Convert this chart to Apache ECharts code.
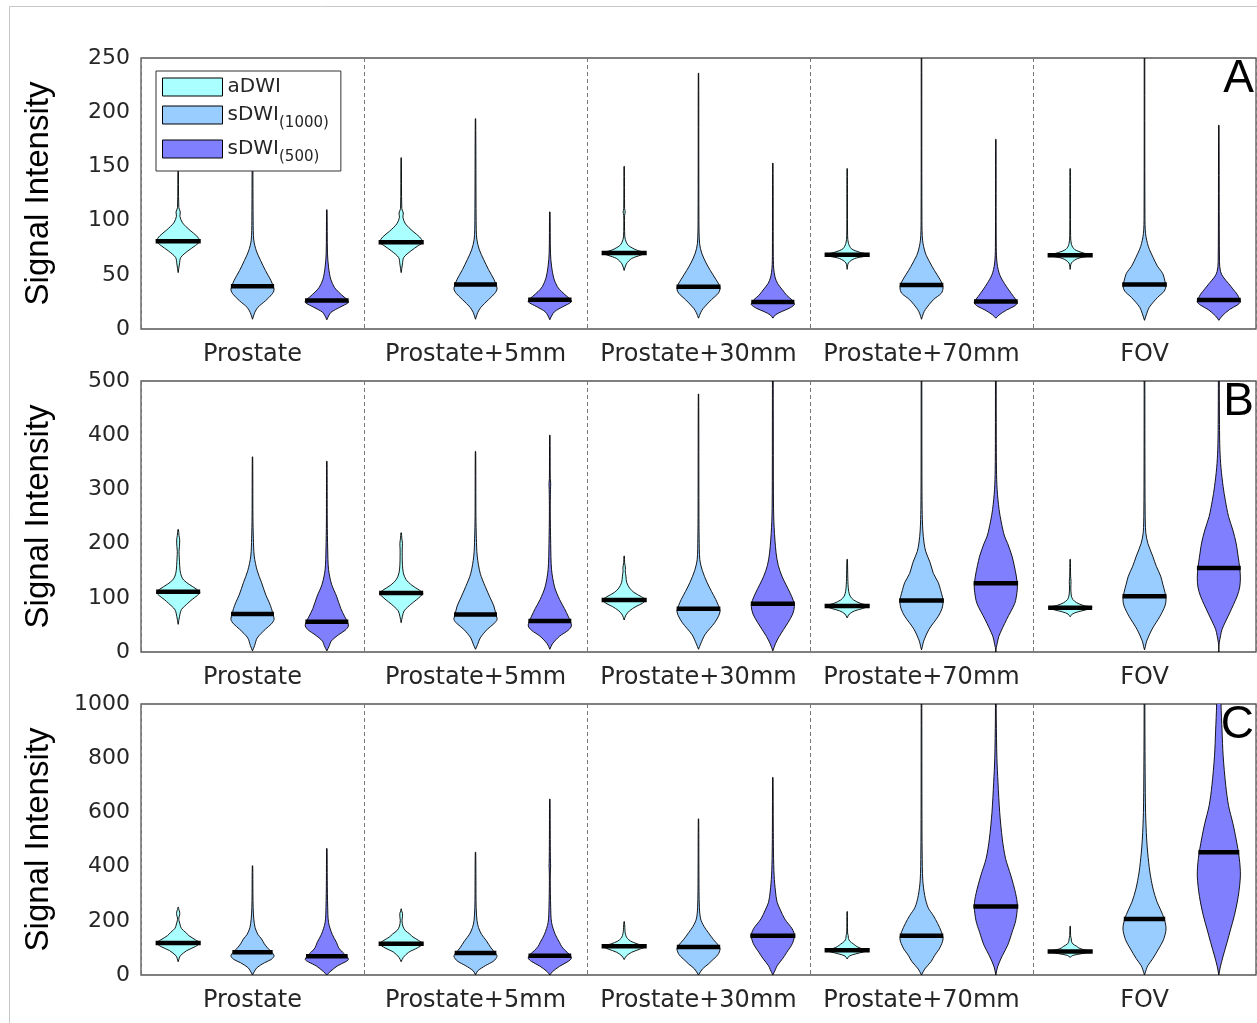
<!DOCTYPE html>
<html>
<head>
<meta charset="utf-8">
<title>Signal Intensity violins</title>
<script src="https://cdn.jsdelivr.net/npm/echarts@6/dist/echarts.min.js"></script>
<style>
  html, body { margin: 0; padding: 0; background: #ffffff; }
  #chart { width: 1257px; height: 1023px; }
</style>
</head>
<body>
<div id="chart"></div>
<script>
// ---- categories ----
const groups = ['Prostate', 'Prostate+5mm', 'Prostate+30mm', 'Prostate+70mm', 'FOV'];
const methods = ['aDWI', 'sDWI(1000)', 'sDWI(500)'];
const methodColors = ['#aaffff', '#99ccff', '#8080ff'];
const panelLetters = ['A', 'B', 'C'];
const yMaxes = [250, 500, 1000];
const yIntervals = [50, 100, 200];

// ---- medians (one per region) ----
const medianA_aDWI = [81, 80, 70, 68.5, 68];
const medianA_sDWI1000 = [39.5, 41, 39, 40.7, 41];
const medianA_sDWI500 = [26.3, 27, 24.8, 25.4, 26.8];

const medianB_aDWI = [111, 109, 96, 85, 81.6];
const medianB_sDWI1000 = [70, 69, 80, 95, 103];
const medianB_sDWI500 = [56, 57, 89, 127, 155];

const medianC_aDWI = [118, 115, 106, 91, 87];
const medianC_sDWI1000 = [84, 81, 103, 145, 207];
const medianC_sDWI500 = [69, 71, 145, 253, 453];

// ---- density profiles: [signal value, relative half width], bottom to top ----
const profileA_aDWI = [
  [[52,0],[60,0.06],[66,0.12],[72,0.45],[77,0.8],[81,1],[86,0.85],[91,0.55],[98,0.2],[104,0.08],[108,0.1],[112,0.03],[155,0.01]],
  [[52,0],[60,0.06],[66,0.12],[72,0.45],[77,0.8],[80,1],[85,0.85],[90,0.55],[97,0.2],[103,0.08],[107,0.1],[111,0.03],[158,0.01]],
  [[54,0],[60,0.1],[65,0.35],[68,0.75],[70,1],[73,0.55],[77,0.2],[80,0.1],[85,0.03],[105,0.02],[108,0.05],[111,0.02],[150,0.01]],
  [[55,0],[61,0.06],[65,0.35],[67,0.8],[68.5,1],[71,0.55],[74,0.2],[79,0.06],[86,0.02],[148,0.01]],
  [[55,0],[61,0.06],[65,0.35],[67,0.8],[68,1],[70.5,0.55],[73.5,0.2],[78,0.06],[86,0.02],[148,0.01]]
];
const profileA_sDWI1000 = [
  [[9,0],[15,0.1],[20,0.25],[26,0.6],[32,0.9],[36,1],[40,0.95],[45,0.85],[54,0.6],[63,0.38],[72,0.18],[82,0.06],[100,0.03],[180,0.01]],
  [[9,0],[15,0.1],[20,0.25],[27,0.6],[33,0.9],[37,1],[41,0.95],[46,0.85],[55,0.6],[64,0.38],[73,0.18],[83,0.06],[100,0.03],[194,0.01]],
  [[10,0],[15,0.1],[19,0.22],[27,0.6],[33,0.92],[37,1],[41,0.95],[46,0.8],[54,0.55],[61,0.35],[70,0.15],[79,0.05],[100,0.02],[236,0.01]],
  [[9,0],[14,0.08],[18,0.18],[27,0.55],[33,0.92],[38,1],[42,0.95],[46,0.85],[54,0.6],[61,0.4],[70,0.18],[82,0.05],[100,0.02],[280,0.01]],
  [[8,0],[14,0.1],[20,0.22],[29,0.6],[35,0.92],[40,1],[44,0.95],[51,0.85],[58,0.6],[66,0.4],[76,0.18],[88,0.05],[105,0.02],[280,0.01]]
];
const profileA_sDWI500 = [
  [[8.5,0],[12,0.08],[15.5,0.2],[20,0.6],[24.5,1],[27,0.95],[29.5,0.8],[34,0.55],[38.5,0.35],[46,0.18],[57,0.08],[70,0.03],[110,0.01]],
  [[8.5,0],[12,0.08],[16,0.22],[20.5,0.6],[25,1],[27.5,0.95],[30,0.8],[34.5,0.55],[39,0.35],[47,0.18],[58,0.08],[70,0.03],[108,0.01]],
  [[10,0],[13,0.12],[16,0.4],[19,0.75],[22.5,1],[25,0.95],[27,0.88],[31,0.65],[36,0.45],[42,0.22],[48,0.1],[56,0.04],[70,0.02],[153,0.01]],
  [[10,0],[13,0.15],[17.5,0.5],[21,0.85],[24,1],[27,0.93],[30,0.82],[36,0.6],[42,0.4],[50,0.18],[60,0.06],[75,0.02],[175,0.01]],
  [[8,0],[12,0.15],[18,0.5],[22,0.85],[25,1],[28,0.95],[32,0.85],[37,0.65],[42,0.45],[48,0.2],[53,0.08],[62,0.03],[188,0.01]]
];

const profileB_aDWI = [
  [[51,0],[65,0.06],[78,0.15],[90,0.45],[97,0.65],[104,0.88],[110,1],[116,0.85],[125,0.5],[133,0.25],[140,0.15],[150,0.09],[160,0.07],[175,0.05],[185,0.04],[195,0.06],[207,0.07],[215,0.04],[226,0.01]],
  [[54,0],[66,0.06],[76,0.14],[88,0.45],[96,0.7],[103,0.9],[108,1],[114,0.85],[123,0.5],[134,0.22],[146,0.1],[160,0.06],[176,0.05],[190,0.05],[200,0.06],[210,0.03],[220,0.01]],
  [[59,0],[68,0.08],[76,0.25],[84,0.55],[90,0.85],[96,1],[102,0.8],[110,0.45],[118,0.25],[128,0.12],[140,0.08],[150,0.05],[155,0.06],[165,0.02],[177,0.01]],
  [[63,0],[70,0.1],[76,0.35],[80,0.7],[85,1],[90,0.6],[96,0.3],[103,0.14],[112,0.07],[125,0.04],[135,0.03],[171,0.01]],
  [[65,0],[70,0.1],[74,0.35],[78,0.75],[82,1],[86,0.6],[91,0.3],[97,0.12],[105,0.05],[120,0.03],[130,0.04],[140,0.02],[171,0.01]]
];
const profileB_sDWI1000 = [
  [[2,0],[12,0.1],[26,0.22],[42,0.6],[52,0.88],[60,1],[70,0.95],[80,0.88],[91,0.78],[105,0.62],[128,0.42],[150,0.22],[177,0.08],[210,0.04],[250,0.02],[360,0.01]],
  [[5,0],[14,0.1],[26,0.22],[42,0.55],[52,0.85],[60,1],[69,0.95],[85,0.85],[100,0.68],[121,0.45],[145,0.22],[177,0.08],[210,0.04],[250,0.02],[370,0.01]],
  [[5,0],[15,0.1],[32,0.3],[54,0.75],[68,0.95],[76,1],[86,0.92],[97,0.8],[112,0.6],[128,0.4],[150,0.18],[171,0.06],[210,0.03],[260,0.02],[476,0.01]],
  [[4,0],[10,0.04],[20,0.1],[42,0.35],[66,0.78],[80,0.95],[91,1],[100,0.98],[115,0.88],[128,0.78],[145,0.55],[165,0.4],[185,0.2],[201,0.12],[225,0.06],[263,0.03],[330,0.02],[600,0.01]],
  [[4,0],[10,0.04],[20,0.1],[42,0.35],[66,0.72],[85,0.95],[97,1],[110,0.95],[125,0.85],[140,0.75],[158,0.55],[177,0.38],[200,0.16],[220,0.06],[260,0.03],[350,0.02],[600,0.01]]
];
const profileB_sDWI500 = [
  [[2,0],[12,0.12],[20,0.2],[32,0.55],[40,0.85],[48,1],[56,0.95],[66,0.82],[80,0.65],[103,0.45],[125,0.22],[152,0.08],[190,0.04],[240,0.02],[352,0.01]],
  [[5,0],[15,0.12],[29,0.45],[40,0.85],[48,1],[57,0.95],[66,0.85],[80,0.68],[97,0.45],[120,0.22],[152,0.08],[200,0.04],[260,0.02],[300,0.03],[311,0.04],[320,0.02],[400,0.01]],
  [[2,0],[15,0.12],[29,0.3],[54,0.7],[70,0.92],[84,1],[95,0.95],[109,0.8],[125,0.6],[140,0.42],[160,0.25],[183,0.15],[230,0.06],[275,0.03],[450,0.02],[600,0.01]],
  [[0,0],[8,0.02],[15,0.06],[29,0.14],[60,0.5],[90,0.88],[110,0.98],[122,1],[140,0.95],[160,0.85],[177,0.75],[200,0.55],[214,0.4],[240,0.25],[263,0.15],[300,0.06],[336,0.03],[400,0.02],[600,0.01]],
  [[0,0],[10,0.01],[17,0.02],[30,0.08],[42,0.15],[72,0.5],[103,0.85],[120,0.97],[137,1],[155,0.97],[175,0.9],[201,0.8],[225,0.65],[250,0.45],[280,0.3],[305,0.2],[340,0.1],[373,0.05],[420,0.03],[600,0.01]]
];

const profileC_aDWI = [
  [[49,0],[62,0.05],[71,0.1],[90,0.4],[105,0.8],[118,1],[130,0.8],[145,0.5],[157,0.35],[172,0.15],[188,0.08],[200,0.04],[210,0.03],[222,0.07],[232,0.07],[242,0.03],[250,0.01]],
  [[49,0],[65,0.1],[84,0.35],[100,0.75],[115,1],[128,0.8],[140,0.55],[151,0.4],[165,0.18],[180,0.08],[200,0.04],[215,0.06],[228,0.06],[237,0.02],[244,0.01]],
  [[57,0],[70,0.1],[84,0.35],[96,0.75],[106,1],[115,0.6],[125,0.3],[135,0.15],[145,0.08],[160,0.04],[175,0.03],[197,0.01]],
  [[59,0],[70,0.1],[78,0.4],[85,0.75],[91,1],[98,0.65],[105,0.45],[114,0.3],[125,0.12],[135,0.06],[145,0.05],[155,0.02],[234,0.01]],
  [[65,0],[72,0.12],[76,0.35],[82,0.75],[87,1],[94,0.6],[100,0.4],[106,0.3],[115,0.12],[125,0.06],[133,0.05],[145,0.02],[180,0.01]]
];
const profileC_sDWI1000 = [
  [[0,0],[15,0.1],[28,0.22],[45,0.55],[58,0.88],[71,1],[85,0.88],[100,0.7],[115,0.55],[133,0.42],[150,0.25],[175,0.12],[207,0.06],[250,0.03],[300,0.02],[403,0.01]],
  [[0,0],[15,0.1],[34,0.45],[52,0.85],[69,1],[81,0.92],[100,0.72],[127,0.5],[150,0.28],[175,0.14],[200,0.07],[250,0.03],[350,0.02],[453,0.01]],
  [[0,0],[22,0.18],[40,0.45],[53,0.62],[75,0.9],[96,1],[110,0.92],[130,0.7],[157,0.45],[180,0.25],[207,0.1],[250,0.04],[366,0.02],[576,0.01]],
  [[0,0],[22,0.15],[50,0.45],[71,0.6],[100,0.85],[133,1],[160,0.92],[190,0.75],[219,0.55],[250,0.3],[293,0.15],[350,0.06],[450,0.03],[613,0.02],[1100,0.01]],
  [[0,0],[20,0.08],[34,0.15],[60,0.38],[96,0.65],[130,0.88],[170,1],[206,0.92],[240,0.75],[270,0.58],[317,0.4],[380,0.25],[450,0.15],[502,0.1],[600,0.05],[748,0.03],[900,0.02],[1100,0.01]]
];
const profileC_sDWI500 = [
  [[0,0],[12,0.15],[34,0.5],[48,0.85],[57,1],[69,0.92],[85,0.72],[100,0.55],[120,0.45],[150,0.25],[194,0.08],[250,0.04],[350,0.02],[467,0.01]],
  [[0,0],[12,0.12],[32,0.45],[50,0.85],[62,1],[75,0.92],[90,0.72],[105,0.55],[120,0.45],[150,0.25],[194,0.08],[250,0.04],[350,0.02],[395,0.03],[403,0.04],[411,0.03],[500,0.02],[649,0.01]],
  [[0,0],[20,0.12],[34,0.2],[60,0.45],[84,0.65],[115,0.9],[145,1],[170,0.9],[207,0.55],[240,0.35],[268,0.2],[310,0.12],[366,0.06],[450,0.03],[550,0.02],[729,0.01]],
  [[0,0],[30,0.08],[71,0.3],[110,0.55],[157,0.75],[200,0.92],[256,1],[300,0.92],[366,0.7],[430,0.45],[502,0.3],[600,0.18],[711,0.1],[800,0.05],[945,0.02],[1100,0.01]],
  [[0,0],[30,0.07],[70,0.2],[120,0.38],[170,0.55],[219,0.72],[290,0.9],[366,1],[430,0.95],[502,0.8],[560,0.65],[625,0.45],[700,0.32],[809,0.2],[900,0.15],[1000,0.1],[1100,0.07],[1250,0.04]]
];

// panel -> method -> arrays
const panelMedians = [
  [medianA_aDWI, medianA_sDWI1000, medianA_sDWI500],
  [medianB_aDWI, medianB_sDWI1000, medianB_sDWI500],
  [medianC_aDWI, medianC_sDWI1000, medianC_sDWI500]
];
const panelProfiles = [
  [profileA_aDWI, profileA_sDWI1000, profileA_sDWI500],
  [profileB_aDWI, profileB_sDWI1000, profileB_sDWI500],
  [profileC_aDWI, profileC_sDWI1000, profileC_sDWI500]
];

// ---- layout ----
const GRID_LEFT = 141, GRID_WIDTH = 1115, GRID_HEIGHT = 271;
const gridTops = [58, 381, 704];
const HALF_WIDTH = 0.29;           // max half width of a violin, in x-axis units
const TICK_FONT = '"DejaVu Sans", sans-serif';
const NAME_FONT = '"Liberation Sans", Arial, sans-serif';

// half width of a profile at value v (linear between profile points)
function widthAt(profile, v) {
  for (let i = 1; i < profile.length; i++) {
    const a = profile[i - 1], b = profile[i];
    if (v >= a[0] && v <= b[0]) {
      const t = (v - a[0]) / (b[0] - a[0] || 1);
      return a[1] + t * (b[1] - a[1]);
    }
  }
  return 0;
}

function makeRenderer(profiles) {
  return function (params, api) {
    const x = api.value(0);
    const med = api.value(1);
    const prof = profiles[params.dataIndex];
    const left = prof.map(p => api.coord([x - p[1] * HALF_WIDTH, p[0]]));
    const right = prof.slice().reverse().map(p => api.coord([x + p[1] * HALF_WIDTH, p[0]]));
    const pts = left.concat(right);
    const wMed = widthAt(prof, med) * HALF_WIDTH;
    const m1 = api.coord([x - wMed, med]);
    const m2 = api.coord([x + wMed, med]);
    return {
      type: 'group',
      children: [
        {
          type: 'polygon',
          shape: { points: pts, smooth: 0.3 },
          style: { fill: api.visual('color'), stroke: '#000', lineWidth: 0.9 }
        },
        {
          type: 'line',
          shape: { x1: m1[0] - 1, y1: m1[1], x2: m2[0] + 1, y2: m2[1] },
          style: { stroke: '#000', lineWidth: 4.5 }
        }
      ]
    };
  };
}

const grids = [], xAxes = [], yAxes = [], series = [], graphics = [];

for (let p = 0; p < 3; p++) {
  grids.push({
    left: GRID_LEFT, top: gridTops[p], width: GRID_WIDTH, height: GRID_HEIGHT,
    show: true, borderColor: '#555', borderWidth: 1.3, backgroundColor: '#fff'
  });
  // numeric axis carrying the 15 violins
  xAxes.push({
    type: 'value', gridIndex: p, min: 0.5, max: 15.5, show: false
  });
  // region axis with labels and dashed separators
  xAxes.push({
    type: 'category', gridIndex: p, data: groups, boundaryGap: true, position: 'bottom',
    axisLine: { show: false }, axisTick: { show: false },
    axisLabel: { interval: 0, fontSize: 24, color: '#262626', fontFamily: TICK_FONT, margin: 14 },
    splitLine: { show: true, interval: 0, lineStyle: { color: '#777', type: [4, 3], width: 1 } }
  });
  yAxes.push({
    type: 'value', gridIndex: p, min: 0, max: yMaxes[p], interval: yIntervals[p],
    axisLine: { show: false }, axisTick: { show: false }, splitLine: { show: false },
    axisLabel: { fontSize: 22, color: '#262626', fontFamily: TICK_FONT, margin: 11,
                 formatter: v => String(v) },
    name: 'Signal Intensity', nameLocation: 'middle', nameGap: 86,
    nameTextStyle: { fontSize: 33, color: '#000', fontFamily: NAME_FONT }
  });
  for (let m = 0; m < 3; m++) {
    const meds = panelMedians[p][m];
    series.push({
      type: 'custom',
      name: methods[m],
      xAxisIndex: 2 * p,
      yAxisIndex: p,
      clip: true,
      itemStyle: { color: methodColors[m] },
      renderItem: makeRenderer(panelProfiles[p][m]),
      encode: { x: 0, y: 1 },
      data: groups.map((g, i) => [3 * i + m + 1, meds[i]]),
      silent: true,
      z: 3
    });
  }
  graphics.push({
    type: 'text', x: 1254, y: gridTops[p] + 21, z: 10,
    style: { text: panelLetters[p], font: '46px "Liberation Sans", Arial, sans-serif',
             fill: '#000', textAlign: 'right', textVerticalAlign: 'middle' }
  });
}

// figure frame lines
graphics.push({ type: 'line', shape: { x1: 9.5, y1: 6.5, x2: 1257, y2: 6.5 }, style: { stroke: '#c8c8c8', lineWidth: 1 } });
graphics.push({ type: 'line', shape: { x1: 9.5, y1: 6.5, x2: 9.5, y2: 1023 }, style: { stroke: '#c8c8c8', lineWidth: 1 } });

const chart = echarts.init(document.getElementById('chart'), null, { renderer: 'canvas' });
chart.setOption({
  animation: false,
  backgroundColor: '#fff',
  grid: grids,
  xAxis: xAxes,
  yAxis: yAxes,
  legend: {
    data: methods,
    orient: 'vertical',
    left: 156, top: 71,
    padding: [6, 12, 6, 6],
    itemGap: 8,
    itemWidth: 60, itemHeight: 18,
    icon: 'rect',
    selectedMode: false,
    backgroundColor: '#fff',
    borderColor: '#333', borderWidth: 1, borderRadius: 0,
    itemStyle: { borderColor: '#000', borderWidth: 1 },
    formatter: function (name) {
      if (name === 'aDWI') return '{main|aDWI}';
      return '{main|sDWI}{sub|' + name.slice(4) + '}';
    },
    textStyle: {
      rich: {
        main: { fontSize: 20, fontFamily: TICK_FONT, color: '#262626' },
        sub: { fontSize: 15, fontFamily: TICK_FONT, color: '#262626', padding: [17, 0, 0, 0] }
      }
    },
    z: 20
  },
  graphic: graphics,
  series: series
});
</script>
</body>
</html>
